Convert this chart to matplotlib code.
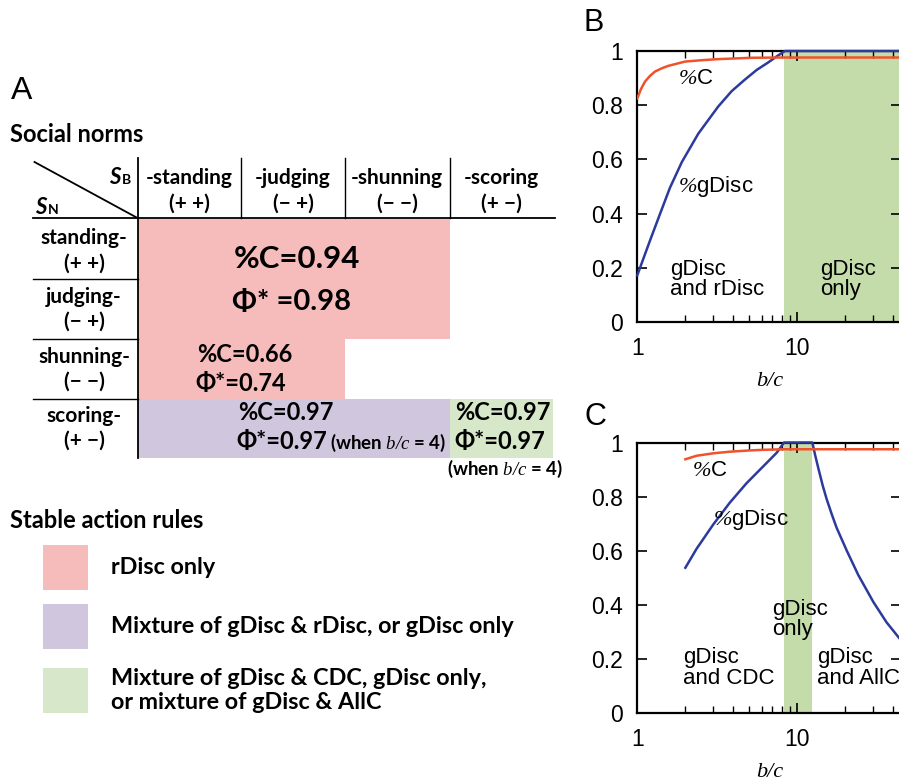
import matplotlib
matplotlib.use("Agg")
import matplotlib.pyplot as plt
from matplotlib.patches import Rectangle
from matplotlib.ticker import LogLocator, NullFormatter, FixedLocator
import numpy as np

plt.rcParams["mathtext.fontset"] = "custom"
plt.rcParams["mathtext.it"] = "Liberation Serif:italic"
plt.rcParams["mathtext.rm"] = "Liberation Serif:italic"

# ---- Panel A data: social norms table ----
col_names = ["-standing", "-judging", "-shunning", "-scoring"]
col_signs = ["(+ +)", "(− +)", "(− −)", "(+ −)"]
row_names = ["standing-", "judging-", "shunning-", "scoring-"]
row_signs = ["(+ +)", "(− +)", "(− −)", "(+ −)"]
coop_rdisc, phi_rdisc = 0.94, 0.98      # standing/judging rows
coop_shun, phi_shun = 0.66, 0.74        # shunning row
coop_mix, phi_mix = 0.97, 0.97          # scoring row, gDisc & rDisc
coop_cdc, phi_cdc = 0.97, 0.97          # scoring row, gDisc & CDC / AllC
legend_labels = ["rDisc only",
                 "Mixture of gDisc & rDisc, or gDisc only",
                 "Mixture of gDisc & CDC, gDisc only,\nor mixture of gDisc & AllC"]

# ---- Panel B data ----
bc_b_coop = [1.0, 1.055, 1.117, 1.20, 1.29, 1.42, 1.56, 1.99, 2.53, 3.21, 5.2, 8.41, 45]
coop_b = [0.825, 0.86, 0.887, 0.908, 0.924, 0.936, 0.945, 0.961, 0.966, 0.970,
          0.975, 0.976, 0.976]
bc_b_gdisc = [1.0, 1.04, 1.20, 1.39, 1.60, 1.90, 2.41, 3.21, 3.90, 4.73, 5.59,
              6.61, 7.46, 8.41, 45]
gdisc_b = [0.172, 0.2, 0.30, 0.40, 0.495, 0.59, 0.695, 0.795, 0.852, 0.895, 0.93,
           0.958, 0.98, 1.0, 1.0]
band_b = (8.3, 45)

# ---- Panel C data ----
bc_c_coop = [2.0, 2.35, 2.99, 3.80, 4.84, 6.15, 8.3, 45]
coop_c = [0.938, 0.951, 0.960, 0.966, 0.970, 0.973, 0.975, 0.975]
bc_c_gdisc = [2.0, 2.35, 2.99, 3.80, 4.84, 6.15, 7.46, 8.3, 12.47,
              12.97, 13.6, 14.5, 15.35, 16.5, 17.7, 20.5, 24.2, 30.1, 36.4, 43.5]
gdisc_c = [0.537, 0.607, 0.697, 0.778, 0.85, 0.912, 0.962, 1.0, 1.0,
           0.955, 0.905, 0.84, 0.79, 0.735, 0.685, 0.60, 0.51, 0.41, 0.335, 0.278]
band_c = (8.3, 12.5)

pink = "#f5bcbb"
purple = "#d0c6de"
green_tab = "#d6e8c9"
green_band = "#c4dcaa"
orange = "#f0522b"
blue = "#2c3a9c"

W, H = 899, 783
fig = plt.figure(figsize=(W / 100, H / 100), dpi=100)

# Panel A drawn in pixel coordinates
axa = fig.add_axes([0, 0, 1, 1])
axa.set_xlim(0, W)
axa.set_ylim(H, 0)
axa.axis("off")

tfont = ["Lato", "DejaVu Sans"]


def t(x, y, s, size=13, ha="center", va="center", weight="bold", **kw):
    axa.text(x, y, s, fontsize=size, ha=ha, va=va, fontweight=weight,
             family=kw.pop("family", tfont), **kw)


axa.text(11, 91, "A", fontsize=23, family="Liberation Sans", va="center")
t(10, 134, "Social norms", size=17, ha="left")

# coloured blocks
axa.add_patch(Rectangle((137.5, 219), 312.5, 120, color=pink, lw=0))
axa.add_patch(Rectangle((137.5, 339), 207.5, 60, color=pink, lw=0))
axa.add_patch(Rectangle((137.5, 399), 312.5, 59, color=purple, lw=0))
axa.add_patch(Rectangle((450, 399), 103, 59, color=green_tab, lw=0))

# grid lines
lk = dict(color="black", lw=1.3)
axa.plot([34.5, 137.5], [162, 218], **lk)
axa.plot([137.5, 137.5], [158, 458], **lk)
for xc in [241, 345, 450]:
    axa.plot([xc, xc], [158, 218], color="black", lw=1.0)
axa.plot([33, 555], [218, 218], **lk)
for yr in [279, 339, 399]:
    axa.plot([33, 137.5], [yr, yr], color="black", lw=1.0)

# S_B / S_N labels
t(121, 177, "S", size=16, style="italic", ha="right")
t(122, 180, "B", size=10, ha="left")
t(35, 207, "S", size=16, style="italic", ha="left")
t(48, 210, "N", size=10, ha="left")

col_cx = [189, 293, 397, 501]
for cx, name, sign in zip(col_cx, col_names, col_signs):
    t(cx, 178, name, size=15)
    t(cx, 204, sign, size=15)

row_y = [(238, 264), (297, 322), (357, 382), (416, 441)]
for (y1, y2), name, sign in zip(row_y, row_names, row_signs):
    t(84, y1, name, size=15)
    t(84, y2, sign, size=15)

t(297, 259, f"%C={coop_rdisc:.2f}", size=22.5)
t(292, 302, f"Φ* ={phi_rdisc:.2f}", size=21)
t(245, 354, f"%C={coop_shun:.2f}", size=17)
t(241, 383, f"Φ*={phi_shun:.2f}", size=17)
t(286, 412, f"%C={coop_mix:.2f}", size=17)
t(327, 441, f"Φ*={phi_mix:.2f}", size=17, ha="right")
t(330, 443, r"(when $b/c$ = 4)", size=13.5, ha="left")
t(551, 412, f"%C={coop_cdc:.2f}", size=17, ha="right")
t(545, 441, f"Φ*={phi_cdc:.2f}", size=17, ha="right")
t(505, 469, r"(when $b/c$ = 4)", size=13.5)

# legend of stable action rules
t(10, 520, "Stable action rules", size=17, ha="left")
sq_y = [545, 604, 668]
for y0, col in zip(sq_y, [pink, purple, green_tab]):
    axa.add_patch(Rectangle((43, y0), 45, 45, color=col, lw=0))
for y0, lab in zip(sq_y, legend_labels):
    t(111, y0 + 22.5, lab, size=16.8, ha="left", linespacing=1.2)


# Panels B and C
def px_axes(left, top, bottom, xmax):
    decade = 159.7
    width = np.log10(xmax) * decade
    return fig.add_axes([left / W, 1 - bottom / H, width / W, (bottom - top) / H])


def style_panel(ax, xmax):
    ax.set_xscale("log")
    ax.set_xlim(1, xmax)
    ax.set_ylim(0, 1)
    ax.set_yticks([0, 0.2, 0.4, 0.6, 0.8, 1.0])
    ax.set_yticklabels(["0", "0.2", "0.4", "0.6", "0.8", "1"])
    ax.xaxis.set_major_locator(FixedLocator([1, 10]))
    ax.set_xticklabels(["1", "10"])
    ax.xaxis.set_minor_locator(LogLocator(subs=np.arange(2, 10)))
    ax.xaxis.set_minor_formatter(NullFormatter())
    ax.tick_params(which="both", direction="in", top=True, right=True)
    ax.tick_params(which="major", length=7, width=1.2, labelsize=16.5, pad=10.5)
    ax.tick_params(which="minor", length=5, width=1.0)
    for lab in ax.get_xticklabels() + ax.get_yticklabels():
        lab.set_family("Liberation Sans")
    for sp in ax.spines.values():
        sp.set_linewidth(1.6)
    ax.set_xlabel("b/c", family="Liberation Serif", style="italic",
                  fontsize=16, labelpad=9)


xmax = 45
txt = dict(fontsize=16, family="Liberation Sans")
pct = r"$\%$"

axb = px_axes(637.3, 51, 322, xmax)
style_panel(axb, xmax)
axb.axvspan(*band_b, color=green_band, lw=0, zorder=0)
axb.plot(bc_b_gdisc, gdisc_b, color=blue, lw=1.8, zorder=3, clip_on=False)
axb.plot(bc_b_coop, coop_b, color=orange, lw=1.8, zorder=3)
axb.text(1.8, 0.90, pct + "C", va="center", **txt)
axb.text(1.8, 0.50, pct + "gDisc", va="center", **txt)
axb.text(1.6, 0.157, "gDisc\nand rDisc", va="center", linespacing=0.95, **txt)
axb.text(13.9, 0.157, "gDisc\nonly", va="center", linespacing=0.95, **txt)
fig.text(584 / W, 1 - 23 / H, "B", fontsize=22, family="Liberation Sans", va="center")

axc = px_axes(637.3, 442.5, 713, xmax)
style_panel(axc, xmax)
axc.axvspan(*band_c, color=green_band, lw=0, zorder=0)
axc.plot(bc_c_gdisc, gdisc_c, color=blue, lw=1.8, zorder=3, clip_on=False)
axc.plot(bc_c_coop, coop_c, color=orange, lw=1.8, zorder=3)
axc.text(2.2, 0.898, pct + "C", va="center", **txt)
axc.text(2.97, 0.717, pct + "gDisc", va="center", **txt)
axc.text(6.95, 0.347, "gDisc\nonly", va="center", linespacing=0.95, **txt)
axc.text(1.93, 0.166, "gDisc\nand CDC", va="center", linespacing=0.95, **txt)
axc.text(13.3, 0.166, "gDisc\nand AllC", va="center", linespacing=0.95, **txt)
fig.text(584 / W, 1 - 417 / H, "C", fontsize=22, family="Liberation Sans", va="center")

fig.savefig("out.png", dpi=100)
